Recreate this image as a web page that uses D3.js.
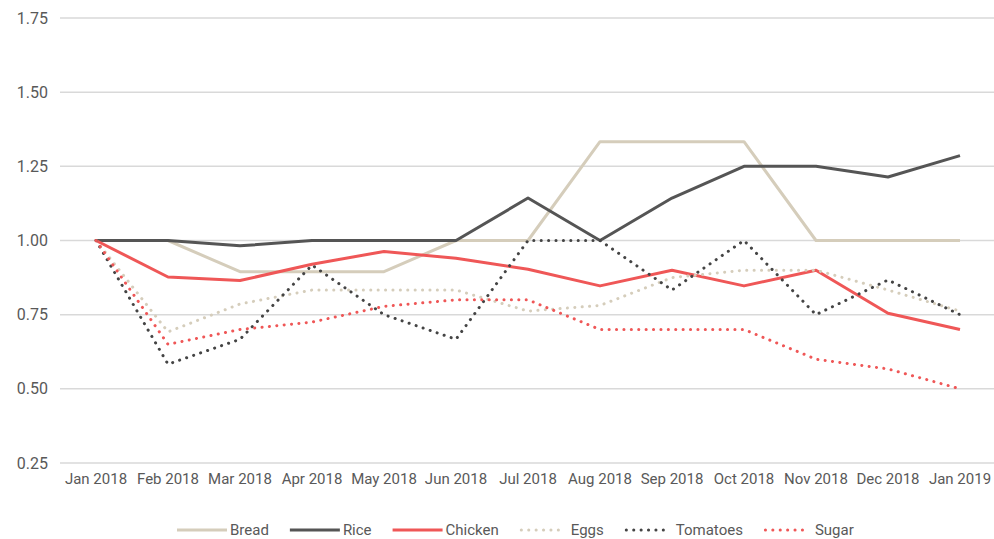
<!DOCTYPE html>
<html>
<head>
<meta charset="utf-8">
<script src="https://cdn.jsdelivr.net/npm/d3@7"></script>
<style>
body { margin: 0; background: #fff; }
svg text { font-family: "Roboto", sans-serif; fill: #595959; }
</style>
</head>
<body>
<div id="chart"></div>
<script>
var months = ["Jan 2018", "Feb 2018", "Mar 2018", "Apr 2018", "May 2018", "Jun 2018", "Jul 2018",
  "Aug 2018", "Sep 2018", "Oct 2018", "Nov 2018", "Dec 2018", "Jan 2019"];
var yTicks = [0.25, 0.50, 0.75, 1.00, 1.25, 1.50, 1.75];

var bread = [1.00, 1.00, 0.895, 0.895, 0.895, 1.00, 1.00, 1.333, 1.333, 1.333, 1.00, 1.00, 1.00];
var rice = [1.00, 1.00, 0.982, 1.00, 1.00, 1.00, 1.143, 1.00, 1.143, 1.25, 1.25, 1.214, 1.286];
var chicken = [1.00, 0.877, 0.865, 0.92, 0.963, 0.94, 0.903, 0.847, 0.90, 0.847, 0.90, 0.755, 0.70];
var eggs = [1.00, 0.692, 0.786, 0.833, 0.833, 0.833, 0.762, 0.781, 0.875, 0.90, 0.90, 0.833, 0.762];
var tomatoes = [1.00, 0.583, 0.667, 0.917, 0.75, 0.667, 1.00, 1.00, 0.833, 1.00, 0.75, 0.867, 0.75];
var sugar = [1.00, 0.65, 0.70, 0.725, 0.778, 0.80, 0.80, 0.70, 0.70, 0.70, 0.60, 0.567, 0.50];

var series = [
  {name: "Bread", values: bread, color: "#d5cdbb", dotted: false},
  {name: "Rice", values: rice, color: "#555555", dotted: false},
  {name: "Chicken", values: chicken, color: "#ef5757", dotted: false},
  {name: "Eggs", values: eggs, color: "#d5cdbb", dotted: true},
  {name: "Tomatoes", values: tomatoes, color: "#444444", dotted: true},
  {name: "Sugar", values: sugar, color: "#ef5757", dotted: true}
];

var W = 994, H = 539;
var svg = d3.select("#chart").append("svg").attr("width", W).attr("height", H);

var x = d3.scaleBand().domain(months).range([60, 996]);
var y = d3.scaleLinear().domain([0.25, 1.75]).range([463, 18]);

// grid
svg.append("g")
  .selectAll("line")
  .data(yTicks)
  .enter().append("line")
  .attr("x1", 60).attr("x2", 996)
  .attr("y1", function(d) { return y(d); })
  .attr("y2", function(d) { return y(d); })
  .attr("stroke", "#d9d9d9")
  .attr("stroke-width", 1.5);

svg.append("g")
  .selectAll("text")
  .data(yTicks)
  .enter().append("text")
  .attr("x", 48)
  .attr("y", function(d) { return y(d); })
  .attr("dy", "0.35em")
  .attr("text-anchor", "end")
  .style("font-size", "16px")
  .text(function(d) { return d3.format(".2f")(d); });

svg.append("g")
  .selectAll("text")
  .data(months)
  .enter().append("text")
  .attr("x", function(d) { return x(d) + x.bandwidth() / 2; })
  .attr("y", 479)
  .attr("dy", "0.35em")
  .attr("text-anchor", "middle")
  .style("font-size", "15px")
  .text(function(d) { return d; });

var line = d3.line()
  .x(function(d, i) { return x(months[i]) + x.bandwidth() / 2; })
  .y(function(d) { return y(d); });

svg.append("g")
  .selectAll("path")
  .data(series)
  .enter().append("path")
  .attr("d", function(d) { return line(d.values); })
  .attr("fill", "none")
  .attr("stroke", function(d) { return d.color; })
  .attr("stroke-width", 3)
  .attr("stroke-linecap", function(d) { return d.dotted ? "round" : "butt"; })
  .attr("stroke-linejoin", "round")
  .attr("stroke-dasharray", function(d) { return d.dotted ? "0.1 7.3" : null; });

// legend
var legend = svg.append("g");
var lx = 177, ly = 530;
series.forEach(function(s) {
  var len = s.dotted ? 44 : 50;
  var gap = s.dotted ? 7 : 3;
  legend.append("line")
    .attr("x1", lx + (s.dotted ? 1.5 : 0)).attr("x2", lx + len)
    .attr("y1", ly).attr("y2", ly)
    .attr("stroke", s.color)
    .attr("stroke-width", 3)
    .attr("stroke-linecap", s.dotted ? "round" : "butt")
    .attr("stroke-dasharray", s.dotted ? "0.1 7.3" : null);
  var t = legend.append("text")
    .attr("x", lx + len + gap)
    .attr("y", ly)
    .attr("dy", "0.35em")
    .style("font-size", "15px")
    .text(s.name);
  lx = lx + len + gap + t.node().getComputedTextLength() + 21;
});
</script>
</body>
</html>
